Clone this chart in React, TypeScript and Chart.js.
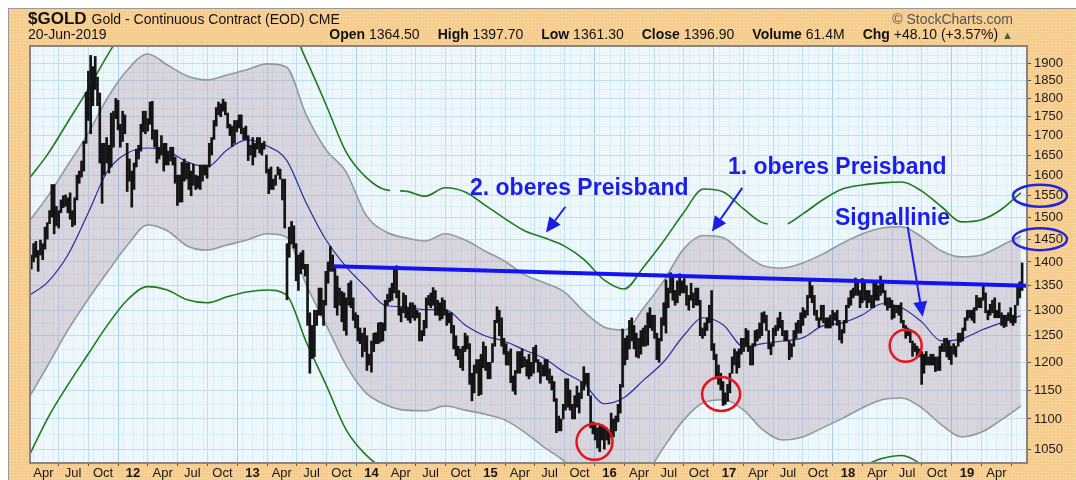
import React, { useEffect, useRef } from 'react';
import { Chart, registerables } from 'chart.js';

Chart.register(...registerables);

const FONT = '"Liberation Sans", Arial, Helvetica, sans-serif';
const DAY = 86400000;

// ---- weekly price ranges (high / low), one array per year, each starting at the listed Monday
const yearStarts = ['2011-02-14', '2012-01-02', '2013-01-07', '2014-01-06', '2015-01-05', '2016-01-04', '2017-01-02', '2018-01-01', '2019-01-07'];

const high2011 = [1390, 1415, 1440, 1445, 1425, 1448, 1440, 1477, 1487, 1515, 1577, 1577, 1525, 1515, 1540, 1550, 1552, 1545, 1557, 1515, 1545, 1600, 1610, 1635, 1685, 1817, 1877, 1923, 1890, 1920, 1860, 1815, 1680, 1680, 1695, 1675, 1760, 1765, 1800, 1795, 1730, 1765, 1755, 1680, 1640, 1610];
const low2011 = [1360, 1385, 1400, 1410, 1380, 1415, 1405, 1428, 1450, 1485, 1500, 1462, 1480, 1475, 1510, 1522, 1525, 1510, 1495, 1478, 1482, 1540, 1580, 1595, 1610, 1680, 1740, 1705, 1780, 1825, 1780, 1630, 1532, 1600, 1630, 1605, 1620, 1670, 1745, 1715, 1670, 1685, 1705, 1560, 1585, 1523];

const high2012 = [1630, 1665, 1675, 1730, 1765, 1765, 1745, 1790, 1792, 1715, 1715, 1670, 1700, 1680, 1680, 1660, 1670, 1670, 1645, 1600, 1600, 1632, 1640, 1630, 1630, 1610, 1627, 1600, 1598, 1625, 1625, 1625, 1625, 1680, 1695, 1740, 1775, 1790, 1785, 1798, 1790, 1760, 1730, 1725, 1740, 1740, 1755, 1755, 1720, 1725, 1700, 1675, 1695];
const low2012 = [1565, 1620, 1640, 1660, 1710, 1705, 1712, 1730, 1690, 1670, 1630, 1640, 1650, 1610, 1625, 1625, 1635, 1625, 1580, 1527, 1535, 1535, 1585, 1590, 1565, 1550, 1575, 1565, 1568, 1565, 1585, 1600, 1592, 1620, 1650, 1690, 1725, 1755, 1750, 1765, 1755, 1720, 1700, 1672, 1680, 1710, 1720, 1705, 1690, 1690, 1636, 1650, 1625];

const high2013 = [1680, 1695, 1695, 1680, 1685, 1650, 1615, 1620, 1590, 1600, 1620, 1615, 1590, 1590, 1440, 1477, 1490, 1480, 1440, 1415, 1420, 1425, 1395, 1395, 1295, 1270, 1300, 1300, 1345, 1345, 1320, 1380, 1400, 1434, 1415, 1390, 1370, 1345, 1338, 1335, 1325, 1355, 1360, 1325, 1295, 1290, 1265, 1255, 1265, 1250, 1215, 1240];
const low2013 = [1645, 1665, 1655, 1650, 1665, 1605, 1555, 1565, 1565, 1575, 1600, 1590, 1540, 1475, 1321, 1410, 1440, 1430, 1360, 1340, 1375, 1385, 1370, 1270, 1180, 1207, 1210, 1270, 1290, 1290, 1270, 1310, 1355, 1380, 1380, 1305, 1290, 1310, 1277, 1260, 1251, 1310, 1305, 1280, 1265, 1240, 1235, 1210, 1220, 1185, 1195, 1182];

const high2014 = [1255, 1256, 1275, 1276, 1275, 1320, 1332, 1345, 1355, 1390, 1392, 1340, 1305, 1335, 1330, 1305, 1315, 1315, 1310, 1300, 1295, 1260, 1280, 1325, 1330, 1335, 1346, 1340, 1320, 1315, 1325, 1320, 1300, 1295, 1295, 1270, 1250, 1230, 1225, 1230, 1255, 1250, 1235, 1180, 1195, 1205, 1205, 1215, 1238, 1230, 1200, 1200];
const low2014 = [1220, 1235, 1235, 1238, 1240, 1260, 1310, 1317, 1320, 1335, 1325, 1290, 1277, 1295, 1285, 1280, 1275, 1285, 1280, 1285, 1240, 1240, 1250, 1265, 1310, 1305, 1310, 1290, 1290, 1280, 1283, 1290, 1270, 1275, 1255, 1225, 1212, 1205, 1190, 1185, 1220, 1225, 1160, 1131, 1145, 1180, 1140, 1142, 1190, 1185, 1170, 1170];

const high2015 = [1235, 1280, 1307, 1300, 1285, 1245, 1235, 1220, 1225, 1175, 1185, 1220, 1220, 1225, 1210, 1205, 1215, 1200, 1228, 1232, 1205, 1200, 1195, 1205, 1205, 1188, 1175, 1165, 1135, 1105, 1100, 1125, 1170, 1170, 1150, 1125, 1140, 1157, 1145, 1165, 1192, 1180, 1180, 1140, 1095, 1090, 1085, 1090, 1090, 1085, 1085, 1080];
const low2015 = [1200, 1230, 1275, 1250, 1230, 1215, 1195, 1195, 1163, 1148, 1142, 1180, 1180, 1190, 1192, 1175, 1170, 1175, 1180, 1200, 1182, 1162, 1175, 1175, 1168, 1162, 1150, 1130, 1077, 1080, 1080, 1100, 1115, 1120, 1115, 1100, 1100, 1120, 1110, 1135, 1150, 1160, 1140, 1085, 1075, 1065, 1052, 1046, 1065, 1050, 1065, 1058];

const high2016 = [1110, 1100, 1105, 1125, 1160, 1263, 1245, 1250, 1280, 1285, 1270, 1255, 1245, 1260, 1265, 1270, 1295, 1305, 1290, 1290, 1255, 1245, 1285, 1315, 1362, 1345, 1377, 1370, 1340, 1360, 1375, 1360, 1365, 1350, 1330, 1355, 1335, 1345, 1345, 1320, 1265, 1275, 1285, 1310, 1340, 1235, 1215, 1195, 1180, 1165, 1145, 1160];
const low2016 = [1070, 1070, 1080, 1095, 1110, 1155, 1195, 1205, 1225, 1240, 1225, 1210, 1208, 1215, 1230, 1230, 1232, 1265, 1260, 1245, 1205, 1200, 1240, 1270, 1255, 1305, 1335, 1320, 1310, 1315, 1330, 1335, 1335, 1310, 1300, 1320, 1305, 1310, 1310, 1250, 1245, 1250, 1260, 1275, 1222, 1205, 1170, 1160, 1150, 1123, 1125, 1130];

const high2017 = [1180, 1210, 1225, 1220, 1225, 1245, 1245, 1264, 1260, 1230, 1235, 1260, 1262, 1275, 1295, 1297, 1290, 1260, 1235, 1265, 1270, 1285, 1296, 1280, 1260, 1260, 1240, 1235, 1260, 1275, 1280, 1295, 1305, 1300, 1330, 1362, 1350, 1330, 1300, 1285, 1310, 1310, 1285, 1285, 1290, 1300, 1295, 1300, 1280, 1262, 1280, 1310];
const low2017 = [1145, 1180, 1195, 1180, 1190, 1215, 1220, 1230, 1220, 1195, 1195, 1230, 1240, 1245, 1250, 1275, 1260, 1225, 1214, 1230, 1250, 1260, 1265, 1250, 1240, 1240, 1205, 1210, 1230, 1245, 1255, 1255, 1270, 1285, 1290, 1325, 1315, 1290, 1280, 1266, 1280, 1275, 1265, 1265, 1265, 1270, 1280, 1270, 1242, 1236, 1255, 1275];

const high2018 = [1325, 1340, 1345, 1366, 1360, 1340, 1365, 1355, 1340, 1340, 1330, 1355, 1355, 1350, 1370, 1355, 1340, 1325, 1325, 1320, 1310, 1310, 1310, 1315, 1280, 1270, 1265, 1262, 1240, 1235, 1230, 1225, 1220, 1215, 1220, 1210, 1215, 1215, 1210, 1210, 1230, 1235, 1245, 1245, 1240, 1230, 1235, 1230, 1255, 1255, 1265, 1285, 1300];
const low2018 = [1305, 1310, 1325, 1330, 1330, 1305, 1315, 1320, 1305, 1315, 1305, 1305, 1320, 1320, 1330, 1335, 1310, 1300, 1305, 1282, 1285, 1295, 1290, 1275, 1265, 1245, 1250, 1237, 1211, 1220, 1210, 1210, 1160, 1180, 1195, 1195, 1195, 1195, 1183, 1185, 1185, 1220, 1220, 1210, 1205, 1196, 1215, 1210, 1230, 1238, 1240, 1260, 1280];

const high2019 = [1300, 1300, 1305, 1330, 1325, 1325, 1350, 1335, 1300, 1312, 1320, 1325, 1300, 1315, 1295, 1290, 1290, 1295, 1305, 1290, 1310, 1350, 1358, 1398];
const low2019 = [1285, 1280, 1275, 1300, 1305, 1305, 1320, 1295, 1281, 1290, 1295, 1285, 1285, 1285, 1270, 1266, 1268, 1280, 1275, 1270, 1275, 1310, 1325, 1340];

const highs = [high2011, high2012, high2013, high2014, high2015, high2016, high2017, high2018, high2019];
const lows = [low2011, low2012, low2013, low2014, low2015, low2016, low2017, low2018, low2019];

// ---- indicator lines, read every two months (15th of Feb, Apr, Jun, Aug, Oct, Dec) from Feb 2011 to Jun 2019
const movingAverage = [1329, 1358, 1415, 1507, 1610, 1655, 1668, 1660, 1633, 1620, 1663, 1689, 1673, 1638, 1533, 1448, 1390, 1347, 1309, 1307, 1301, 1301, 1271, 1250, 1239, 1223, 1207, 1182, 1161, 1126, 1137, 1168, 1201, 1250, 1285, 1271, 1229, 1235, 1240, 1246, 1269, 1275, 1291, 1313, 1305, 1277, 1240, 1244, 1261, 1275, 1289];
const upperBand1 = [1489, 1549, 1625, 1704, 1802, 1881, 1927, 1895, 1863, 1852, 1866, 1881, 1898, 1889, 1755, 1663, 1608, 1505, 1466, 1453, 1446, 1462, 1448, 1424, 1401, 1373, 1356, 1337, 1297, 1267, 1261, 1305, 1360, 1428, 1458, 1453, 1419, 1392, 1387, 1398, 1417, 1441, 1462, 1475, 1478, 1455, 1424, 1411, 1415, 1435, 1457];
const lowerBand1 = [1136, 1195, 1261, 1321, 1379, 1437, 1482, 1469, 1435, 1426, 1437, 1448, 1462, 1455, 1352, 1271, 1195, 1145, 1124, 1115, 1114, 1122, 1115, 1108, 1098, 1078, 1053, 1031, 1002, 979, 974, 1004, 1053, 1098, 1128, 1133, 1115, 1082, 1065, 1070, 1085, 1101, 1119, 1133, 1136, 1119, 1090, 1070, 1078, 1098, 1122];
const upperBand2 = [1590, 1653, 1736, 1824, 1924, 2015, 2062, 2031, 1994, 1984, 2000, 2015, 2034, 2025, 1910, 1782, 1658, 1595, 1564, 1561, 1549, 1569, 1559, 1528, 1496, 1469, 1453, 1435, 1405, 1362, 1343, 1390, 1446, 1510, 1566, 1559, 1519, 1487, 1482, 1507, 1540, 1566, 1576, 1581, 1583, 1561, 1524, 1489, 1494, 1517, 1557];
const lowerBand2 = [1038, 1102, 1159, 1214, 1271, 1321, 1348, 1341, 1321, 1315, 1327, 1337, 1341, 1331, 1238, 1159, 1082, 1041, 1019, 1017, 1017, 1025, 1019, 1013, 1004, 986, 964, 942, 918, 896, 891, 921, 960, 1004, 1017, 1019, 1004, 979, 971, 976, 989, 1008, 1023, 1035, 1040, 1025, 994, 976, 983, 1002, 1023];

// ---- signal line
const signalDates = ['2013-09-05', '2019-07-04'];
const signalValues = [1391, 1350];

// ---- axes
const yTickValues = [1050, 1100, 1150, 1200, 1250, 1300, 1350, 1400, 1450, 1500, 1550, 1600, 1650, 1700, 1750, 1800, 1850, 1900];
const xTickLabels = ['Apr', 'Jul', 'Oct', '12', 'Apr', 'Jul', 'Oct', '13', 'Apr', 'Jul', 'Oct', '14', 'Apr', 'Jul', 'Oct', '15', 'Apr', 'Jul', 'Oct', '16', 'Apr', 'Jul', 'Oct', '17', 'Apr', 'Jul', 'Oct', '18', 'Apr', 'Jul', 'Oct', '19', 'Apr'];

// ---- annotations
const noteTexts = ['2. oberes Preisband', '1. oberes Preisband', 'Signallinie'];
const noteDates = ['2014-10-30', '2016-12-29', '2017-11-22'];
const notePrices = [1552, 1602, 1482];
const arrowFromDates = ['2015-08-19', '2017-02-11', '2018-07-03'];
const arrowFromPrices = [1524, 1569, 1478];
const arrowToDates = ['2015-06-20', '2016-11-10', '2018-08-18'];
const arrowToPrices = [1465, 1467, 1287];
const circleDates = ['2015-11-16', '2016-12-08', '2018-06-27'];
const circlePrices = [1062, 1143, 1231];
const circleRadii = [[18, 18], [19, 17], [16, 16]];
const markedAxisValues = [1550, 1450];

const toMs = (s: string) => {
  const [y, m, d] = s.split('-').map(Number);
  return Date.UTC(y, m - 1, d);
};

const X_MIN = Date.UTC(2011, 1, 19);
const X_MAX = Date.UTC(2019, 6, 4);

const priceData: { x: number; y: number[] }[] = [];
yearStarts.forEach((s, yi) => {
  const t0 = toMs(s);
  highs[yi].forEach((h, i) => {
    priceData.push({ x: t0 + (i * 7 + 2) * DAY, y: [lows[yi][i], h] });
  });
});

const bandX = movingAverage.map((_, k) => Date.UTC(2011, 1 + 2 * k, 15));
const mk = (vals: number[]) => vals.map((v, k) => ({ x: bandX[k], y: v }));

const xTickValues = xTickLabels.map((_, k) => Date.UTC(2011, 3 + 3 * k, 1));
const xLabelMap = new Map<number, string>();
xTickValues.forEach((v, i) => xLabelMap.set(v, xTickLabels[i]));
const yearTickSet = new Set<number>(xTickValues.filter((_, i) => /^\d+$/.test(xTickLabels[i])));

const BLUE = '#1B1FE6';

// small breaks seen in the outer (green) upper band
const greenGapDash = (c: any) => {
  if (c.p0DataIndex === 18) return [4, 10, 200];
  if (c.p0DataIndex === 37) return [5, 200];
  if (c.p0DataIndex === 38) return [0, 5, 200];
  return undefined;
};

function drawArrow(ctx: CanvasRenderingContext2D, x1: number, y1: number, x2: number, y2: number) {
  const ang = Math.atan2(y2 - y1, x2 - x1);
  const L = 15, W = 7;
  const bx = x2 - L * Math.cos(ang);
  const by = y2 - L * Math.sin(ang);
  ctx.beginPath();
  ctx.moveTo(x1, y1);
  ctx.lineTo(bx, by);
  ctx.stroke();
  ctx.beginPath();
  ctx.moveTo(x2, y2);
  ctx.lineTo(bx + W * Math.sin(ang), by - W * Math.cos(ang));
  ctx.lineTo(bx - W * Math.sin(ang), by + W * Math.cos(ang));
  ctx.closePath();
  ctx.fill();
}

const decorPlugin = {
  id: 'decor',
  beforeDraw(chart: any) {
    const { ctx, chartArea: a } = chart;
    const xs = chart.scales.x;
    const ys = chart.scales.y;
    ctx.save();
    ctx.fillStyle = '#EEF7FB';
    ctx.fillRect(a.left, a.top, a.right - a.left, a.bottom - a.top);
    ctx.strokeStyle = '#DCEEF6';
    ctx.lineWidth = 1;
    for (let k = 0; k < 110; k++) {
      const px = Math.round(xs.getPixelForValue(Date.UTC(2011, 1 + k, 1))) + 0.5;
      if (px <= a.left || px >= a.right) continue;
      ctx.beginPath();
      ctx.moveTo(px, a.top);
      ctx.lineTo(px, a.bottom);
      ctx.stroke();
    }
    for (let v = 1025; v <= 1950; v += 50) {
      const py = Math.round(ys.getPixelForValue(v)) + 0.5;
      if (py <= a.top || py >= a.bottom) continue;
      ctx.beginPath();
      ctx.moveTo(a.left, py);
      ctx.lineTo(a.right, py);
      ctx.stroke();
    }
    ctx.restore();
  },
  afterDraw(chart: any) {
    const { ctx, chartArea: a } = chart;
    const xs = chart.scales.x;
    const ys = chart.scales.y;
    ctx.save();
    // plot border
    ctx.strokeStyle = '#858585';
    ctx.lineWidth = 2;
    ctx.strokeRect(a.left, a.top, a.right - a.left, a.bottom - a.top);

    ctx.beginPath();
    ctx.rect(a.left, a.top, a.right - a.left, a.bottom - a.top);
    ctx.clip();
    // texts
    ctx.fillStyle = BLUE;
    ctx.font = `bold 23px ${FONT}`;
    ctx.textBaseline = 'alphabetic';
    noteTexts.forEach((t, i) => {
      ctx.fillText(t, xs.getPixelForValue(toMs(noteDates[i])), ys.getPixelForValue(notePrices[i]));
    });
    // arrows
    ctx.strokeStyle = BLUE;
    ctx.lineWidth = 2;
    arrowFromDates.forEach((d, i) => {
      drawArrow(
        ctx,
        xs.getPixelForValue(toMs(d)),
        ys.getPixelForValue(arrowFromPrices[i]),
        xs.getPixelForValue(toMs(arrowToDates[i])),
        ys.getPixelForValue(arrowToPrices[i])
      );
    });
    // red circles
    ctx.strokeStyle = '#E8141A';
    ctx.lineWidth = 2.5;
    circleDates.forEach((d, i) => {
      ctx.beginPath();
      ctx.ellipse(xs.getPixelForValue(toMs(d)), ys.getPixelForValue(circlePrices[i]), circleRadii[i][0], circleRadii[i][1], 0, 0, Math.PI * 2);
      ctx.stroke();
    });
    ctx.restore();

    // ellipses around axis labels
    ctx.save();
    ctx.strokeStyle = '#2226D8';
    ctx.lineWidth = 2.5;
    markedAxisValues.forEach((v) => {
      ctx.beginPath();
      ctx.ellipse(a.right + 13, ys.getPixelForValue(v), 27, 11, 0, 0, Math.PI * 2);
      ctx.stroke();
    });
    ctx.restore();
  },
};

const lineBase = { type: 'line', pointRadius: 0, pointHoverRadius: 0, cubicInterpolationMode: 'monotone', fill: false };

export default function App() {
  const ref = useRef<HTMLCanvasElement>(null);

  useEffect(() => {
    const chart = new Chart(ref.current as HTMLCanvasElement, {
      type: 'bar',
      data: {
        datasets: [
          { ...lineBase, data: mk(upperBand1), borderColor: '#8D9C9C', borderWidth: 1.6, fill: '+1', backgroundColor: 'rgba(170,135,160,0.30)', order: 10 } as any,
          { ...lineBase, data: mk(lowerBand1), borderColor: '#8D9C9C', borderWidth: 1.6, order: 10 } as any,
          { ...lineBase, data: mk(upperBand2), borderColor: '#1C7C1C', borderWidth: 1.6, order: 8, segment: { borderDash: greenGapDash } } as any,
          { ...lineBase, data: mk(lowerBand2), borderColor: '#1C7C1C', borderWidth: 1.6, order: 8 } as any,
          { ...lineBase, data: mk(movingAverage), borderColor: '#2B2B9E', borderWidth: 1.2, order: 6 } as any,
          { type: 'bar', data: priceData, backgroundColor: '#141414', barThickness: 2, borderWidth: 0, grouped: false, order: 4 } as any,
          { ...lineBase, data: signalDates.map((d, i) => ({ x: toMs(d), y: signalValues[i] })), borderColor: '#1414F0', borderWidth: 4, cubicInterpolationMode: 'default', tension: 0, order: 1 } as any,
        ],
      },
      options: {
        animation: false,
        responsive: false,
        maintainAspectRatio: false,
        events: [],
        layout: { padding: { left: 30, top: 46, right: 0, bottom: 0 } },
        plugins: { legend: { display: false }, tooltip: { enabled: false }, title: { display: false } },
        scales: {
          x: {
            type: 'linear',
            min: X_MIN,
            max: X_MAX,
            offset: false,
            afterBuildTicks: (s: any) => {
              s.ticks = xTickValues.map((v) => ({ value: v }));
            },
            afterFit: (s: any) => {
              s.height = 17;
            },
            ticks: {
              autoSkip: false,
              maxRotation: 0,
              minRotation: 0,
              padding: 0,
              color: '#151515',
              font: (c: any) => ({ family: FONT, size: 13, weight: c.tick && yearTickSet.has(c.tick.value) ? 'bold' : 'normal' }),
              callback: (v: any) => xLabelMap.get(v) ?? '',
            },
            grid: {
              color: (c: any) => (c.tick && yearTickSet.has(c.tick.value) ? '#A6CFE6' : '#BFDFEE'),
              lineWidth: 1,
              drawTicks: true,
              tickLength: 3,
              tickColor: '#555',
            },
            border: { display: false },
          },
          y: {
            type: 'logarithmic',
            position: 'right',
            min: 1028,
            max: 1951,
            afterBuildTicks: (s: any) => {
              s.ticks = yTickValues.map((v) => ({ value: v }));
            },
            afterFit: (s: any) => {
              s.width = 49;
            },
            ticks: {
              padding: 3,
              color: '#1A1A1A',
              font: { family: FONT, size: 13 },
              callback: (v: any) => String(v),
            },
            grid: { color: '#BFDFEE', lineWidth: 1, drawTicks: true, tickLength: 4, tickColor: '#555' },
            border: { display: false },
          },
        },
      } as any,
      plugins: [decorPlugin],
    });
    return () => chart.destroy();
  }, []);

  const small = `14px/14px ${FONT}`;
  const bold = `bold 14px/14px ${FONT}`;
  const gap = 18;

  return (
    <div style={{ position: 'fixed', left: 0, top: 0, width: 1076, height: 480, background: '#fff', overflow: 'hidden' }}>
      <div
        style={{
          position: 'absolute',
          left: 8,
          top: 8,
          width: 1068,
          height: 472,
          boxSizing: 'border-box',
          borderTop: '1px solid #9a9a9a',
          borderLeft: '1px solid #9a9a9a',
          backgroundColor: '#F8C98E',
          backgroundImage: 'radial-gradient(circle, #F5DD9C 0.8px, transparent 1.1px)',
          backgroundSize: '3px 3px',
        }}
      />
      <canvas ref={ref} width={1076} height={480} style={{ position: 'absolute', left: 0, top: 0, width: 1076, height: 480, display: 'block' }} />
      <div style={{ position: 'absolute', left: 28, top: 10, whiteSpace: 'nowrap', color: '#111' }}>
        <span style={{ font: `bold 17px/17px ${FONT}` }}>$GOLD</span>
        <span style={{ font: small, marginLeft: 5 }}>Gold - Continuous Contract (EOD) CME</span>
      </div>
      <div style={{ position: 'absolute', right: 63, top: 12, font: small, color: '#555', whiteSpace: 'nowrap' }}>© StockCharts.com</div>
      <div style={{ position: 'absolute', left: 28, top: 27, font: small, color: '#111', whiteSpace: 'nowrap' }}>20-Jun-2019</div>
      <div style={{ position: 'absolute', right: 63, top: 27, font: small, color: '#111', whiteSpace: 'nowrap' }}>
        <span style={{ font: bold }}>Open</span> 1364.50
        <span style={{ font: bold, marginLeft: gap }}>High</span> 1397.70
        <span style={{ font: bold, marginLeft: gap }}>Low</span> 1361.30
        <span style={{ font: bold, marginLeft: gap }}>Close</span> 1396.90
        <span style={{ font: bold, marginLeft: gap }}>Volume</span> 61.4M
        <span style={{ font: bold, marginLeft: gap }}>Chg</span> +48.10 (+3.57%)
        <span style={{ color: '#3A6A3A', marginLeft: 4, fontSize: 11 }}>▲</span>
      </div>
    </div>
  );
}
